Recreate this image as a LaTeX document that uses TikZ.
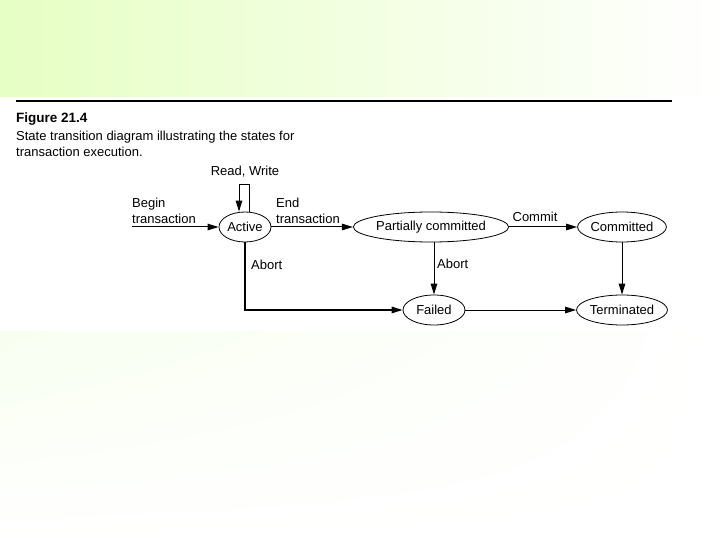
\documentclass[tikz,border=0pt]{standalone}
\usepackage{fontspec}
\setmainfont{Liberation Sans}
\usetikzlibrary{shapes.geometric,arrows.meta,shadings}
\definecolor{bggreen}{RGB}{230,255,196}
\definecolor{bgpale}{RGB}{248,255,240}
\tikzset{
    state/.style={ellipse, draw, line width=0.8pt, inner sep=0pt, minimum height=30pt},
    lbl/.style={inner sep=0pt},
    edge/.style={-{Triangle[length=11pt,width=6.5pt]}, line width=1pt},
}
\begin{document}
\begin{tikzpicture}[x=1pt,y=-1pt,font=\fontsize{13}{16}\selectfont]
    % background and page
    \useasboundingbox (0,0) rectangle (720,540);
    \fill[white] (0,0) rectangle (720,540);
    \shade[left color=bggreen, middle color=bggreen!60!white, right color=white] (0,0) rectangle (720,97);
    \shade[upper left=bgpale, upper right=white, lower left=white, lower right=white] (0,331) rectangle (720,540);
    \fill[white] (0,97) rectangle (684,331);
    \draw[line width=2pt] (16,101) -- (672,101);

    % caption
    \node[lbl, anchor=base west, font=\fontsize{13.5}{16}\selectfont\bfseries] (fig) at (16,123) {Figure 21.4};
    \node[lbl, anchor=north west, align=left] (cap) at (16,131)
        {State transition diagram illustrating the states for\\transaction execution.};

    % states
    \node[state, minimum width=52pt] (act) at (245,227) {Active};
    \node[state, minimum width=145pt] (pcom) at (431,227) {Partially committed};
    \node[state, minimum width=87pt] (com) at (622,227) {Committed};
    \node[state, minimum width=62pt] (fail) at (434,310) {Failed};
    \node[state, minimum width=90pt] (term) at (622,310) {Terminated};

    % transitions
    \coordinate (start) at (132,227);
    \draw[edge] (start) -- (act);
    \draw[edge] ([xshift=4pt]act.north) -- ++(0,-27) -| ([xshift=-6pt]act.north);
    \draw[edge] (act) -- (pcom);
    \draw[edge] (pcom) -- (com);
    \draw[edge, line width=1.5pt] (act.south) |- (fail.west);
    \draw[edge] (pcom.south -| fail) -- (fail);
    \draw[edge] (com) -- (term);
    \draw[edge] (fail) -- (term);

    % labels
    \node[lbl, anchor=south west, align=left] (lbegin) at (132,224) {Begin\\transaction};
    \node[lbl, anchor=base] (lrw) at (245,176) {Read, Write};
    \node[lbl, anchor=south west, align=left] (lend) at (276,224) {End\\transaction};
    \node[lbl, anchor=base] (lcommit) at (535,222) {Commit};
    \node[lbl, anchor=base west] (labort) at (251,269) {Abort};
    \node[lbl, anchor=base west] (labort2) at (437,268) {Abort};
\end{tikzpicture}
\end{document}
